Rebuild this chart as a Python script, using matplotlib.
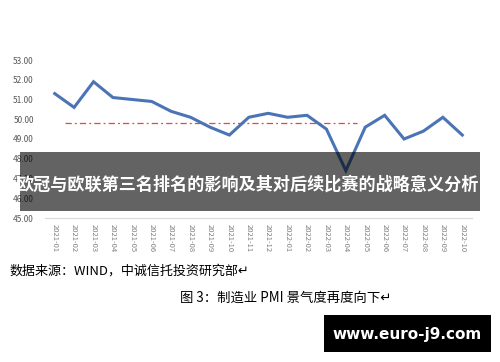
import matplotlib
matplotlib.use("Agg")
import matplotlib.pyplot as plt
from matplotlib.patches import Rectangle

plt.rcParams['font.family'] = ['Noto Sans CJK SC', 'DejaVu Sans']

months = ['2021-01', '2021-02', '2021-03', '2021-04', '2021-05', '2021-06',
          '2021-07', '2021-08', '2021-09', '2021-10', '2021-11', '2021-12',
          '2022-01', '2022-02', '2022-03', '2022-04', '2022-05', '2022-06',
          '2022-07', '2022-08', '2022-09', '2022-10']
pmi = [51.3, 50.6, 51.9, 51.1, 51.0, 50.9, 50.4, 50.1, 49.6, 49.2, 50.1, 50.3,
       50.1, 50.2, 49.5, 47.4, 49.6, 50.2, 49.0, 49.4, 50.1, 49.2]
threshold_value = 49.8
threshold_span = [0.52, 15.6]
yticks = [45, 46, 47, 48, 49, 50, 51, 52, 53]

banner_text = '欧冠与欧联第三名排名的影响及其对后续比赛的战略意义分析'
source_text = '数据来源：WIND，中诚信托投资研究部↵'
caption_text = '图 3：制造业 PMI 景气度再度向下↵'
watermark_text = 'www.euro-j9.com'

W, H = 500, 362
fig = plt.figure(figsize=(W / 100, H / 100), dpi=100)
fig.patch.set_facecolor('white')

ax = fig.add_axes([45 / W, 1 - 218 / H, 427 / W, 158 / H])
x = list(range(len(months)))
ax.plot(x, pmi, color='#4a74b5', lw=2.2, solid_joinstyle='miter', zorder=3)
ax.plot(threshold_span, [threshold_value, threshold_value], color='#e8473f',
        lw=0.9, ls=(0, (5, 2.5, 1.5, 2.5)), zorder=2)
ax.set_xlim(-0.5, len(months) - 0.5)
ax.set_ylim(45, 53)
ax.set_yticks(yticks)
ax.set_yticklabels([f'{v:.2f}' for v in yticks], fontsize=6, color='#595959')
ax.set_xticks(x)
ax.set_xticklabels(months, rotation=-90, fontsize=5.5, color='#7f7f7f')
ax.tick_params(axis='both', length=0)
ax.tick_params(axis='y', pad=8)
ax.tick_params(axis='x', pad=4)
for s in ['top', 'right', 'left']:
    ax.spines[s].set_visible(False)
ax.spines['bottom'].set_color('#d9d9d9')
ax.spines['bottom'].set_linewidth(0.8)

# banner overlay
fig.patches.append(Rectangle((20 / W, 1 - 211 / H), 460 / W, 59 / H,
                             transform=fig.transFigure, facecolor='black',
                             alpha=0.61, edgecolor='none', zorder=10))
fig.text(248 / W, 1 - 185 / H, banner_text, color='white', fontsize=12.3,
         fontweight='bold', ha='center', va='center', zorder=11)

fig.text(10 / W, 1 - 271 / H, source_text, color='black', fontsize=9.4,
         ha='left', va='center')
fig.text(286 / W, 1 - 298 / H, caption_text, color='black', fontsize=9.6,
         ha='center', va='center')

fig.patches.append(Rectangle((324 / W, 1 - 352 / H), 167 / W, 37 / H,
                             transform=fig.transFigure, facecolor='black',
                             edgecolor='none', zorder=10))
fig.text(407 / W, 1 - 334 / H, watermark_text, color='white', fontsize=11,
         fontweight='bold', ha='center', va='center', zorder=11,
         family='DejaVu Sans')

fig.savefig('out.png', dpi=100, facecolor='white')
